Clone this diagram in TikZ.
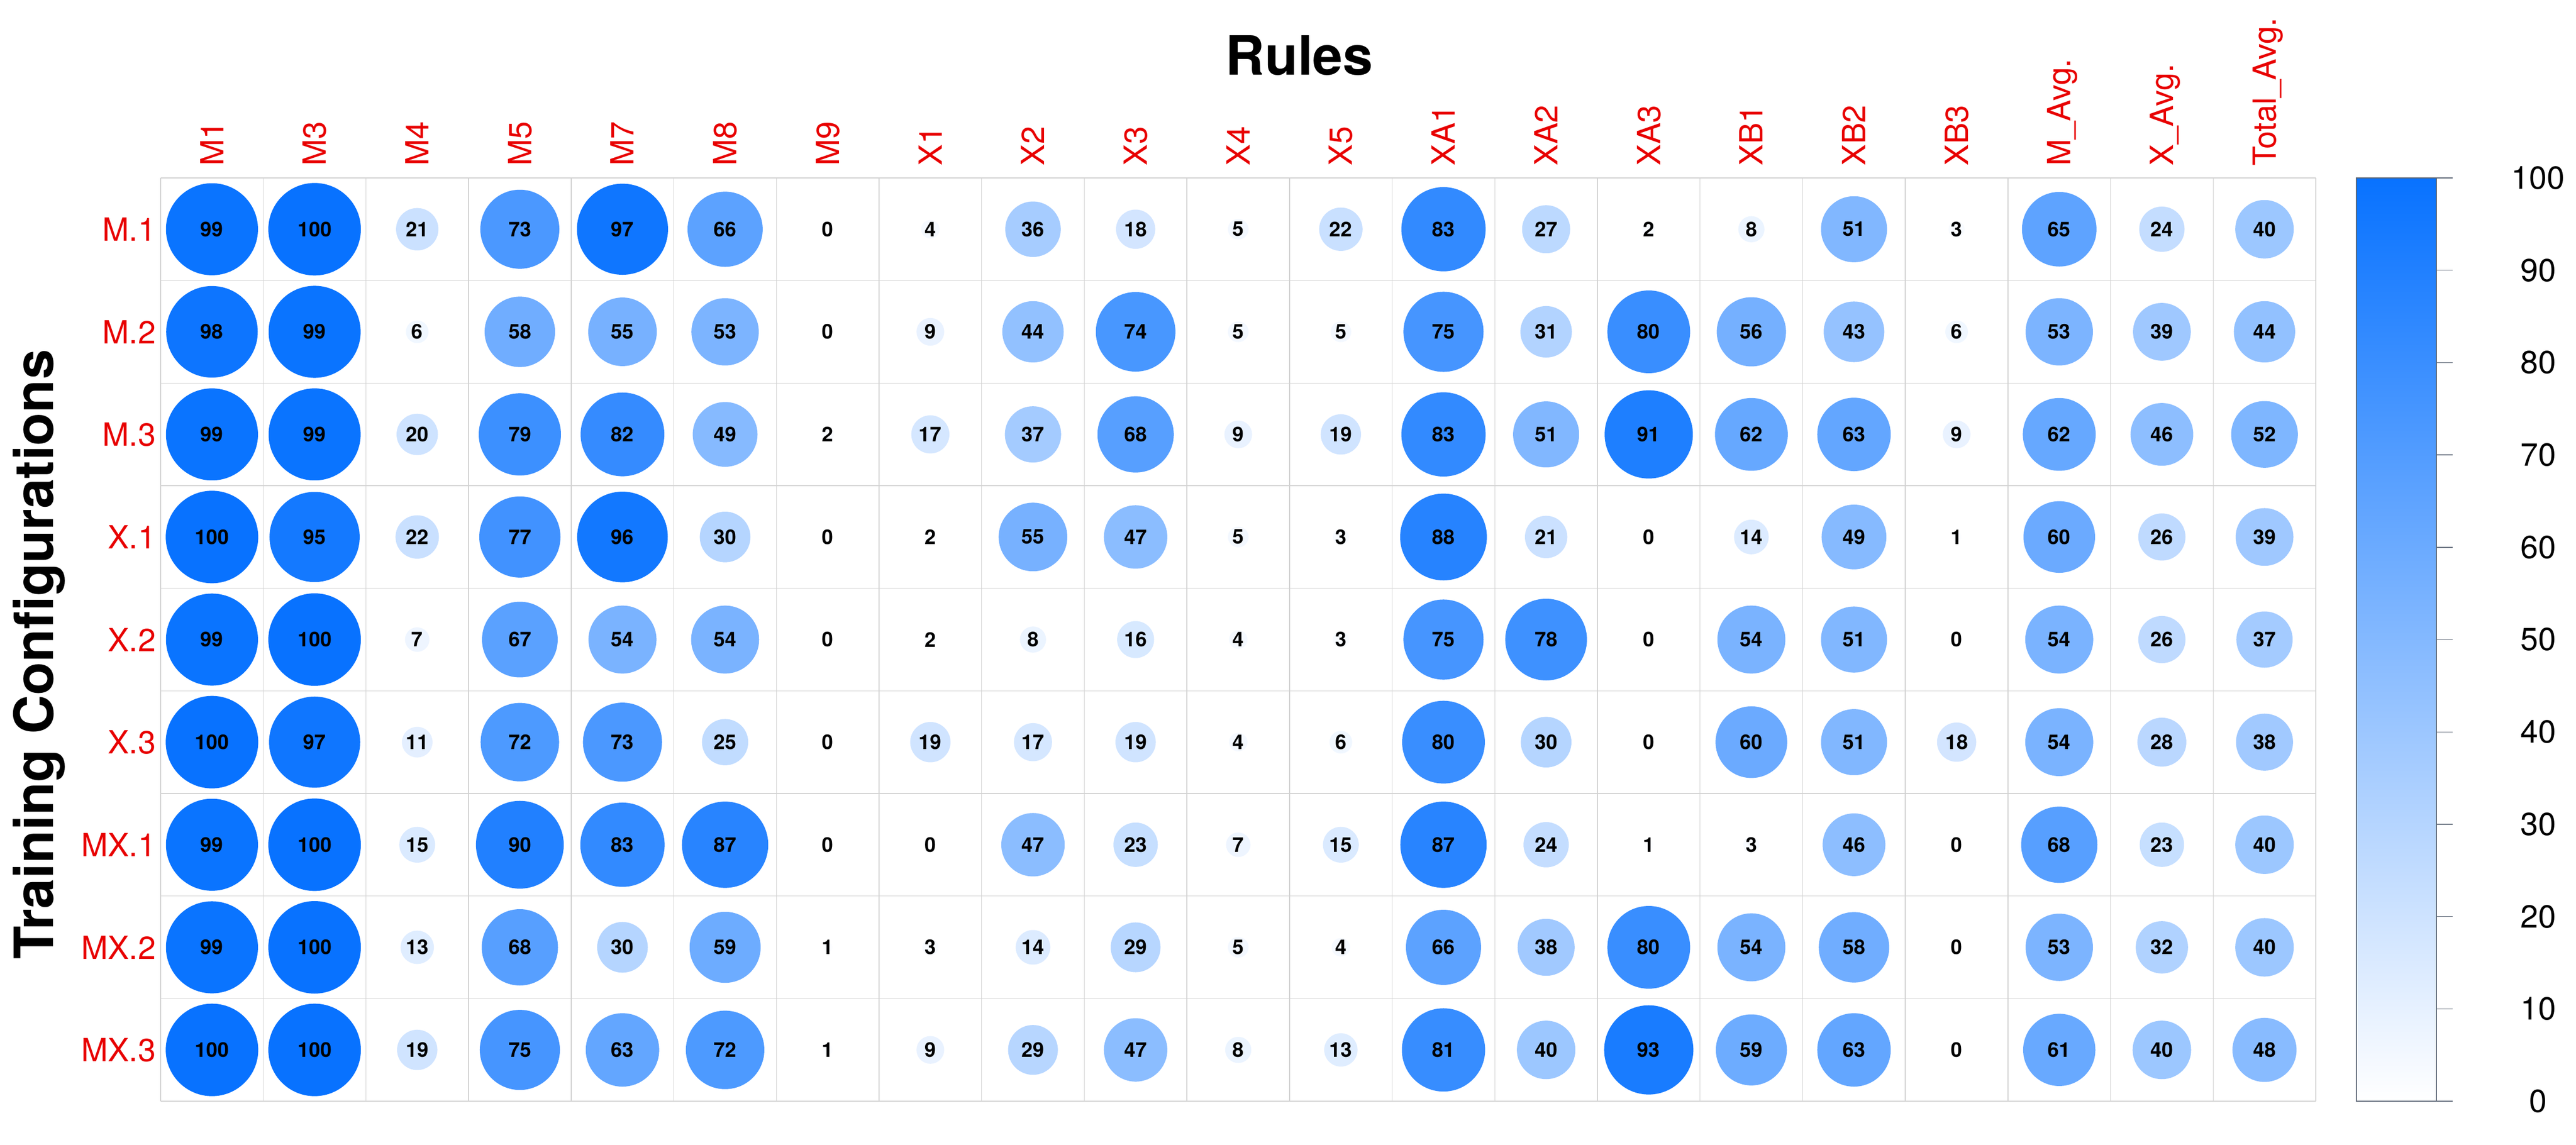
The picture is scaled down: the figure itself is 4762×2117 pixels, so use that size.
\documentclass[tikz,border=0pt]{standalone}
\usepackage{fontspec}
\setmainfont{TeX Gyre Heros}
\definecolor{cbblue}{RGB}{8,114,255}
\definecolor{lblred}{RGB}{232,0,0}
\definecolor{gridgray}{RGB}{210,210,210}
\definecolor{framegray}{RGB}{95,105,120}
\begin{document}
\begin{tikzpicture}[x=0.25pt,y=-0.25pt,
  cellnum/.style={font=\fontsize{9.4}{10}\selectfont\bfseries, inner sep=0pt},
  rowlab/.style={font=\fontsize{14.75}{16}\selectfont, text=lblred, anchor=east, inner sep=0pt},
  collab/.style={font=\fontsize{14.75}{16}\selectfont, text=lblred, rotate=90, anchor=west, inner sep=0pt, text height=10.6pt, text depth=0pt},
  titletext/.style={font=\fontsize{25}{30}\selectfont\bfseries, inner sep=0pt},
  gridline/.style={draw=gridgray, line width=0.35pt},
  cbframe/.style={draw=framegray, line width=0.35pt},
  ticklab/.style={font=\fontsize{14.75}{16}\selectfont, inner sep=0pt}]
\useasboundingbox (0,0) rectangle (4762,2117);
\fill[white] (0,0) rectangle (4762,2117);
\def\cw{189.714}
\def\rh{189.667}
\def\gx{297}
\def\gy{329}
% grid
\foreach \k in {0,...,21} \draw[gridline] ({\gx+\k*\cw},\gy) -- ({\gx+\k*\cw},2036);
\foreach \k in {0,...,9} \draw[gridline] (\gx,{\gy+\k*\rh}) -- (4281,{\gy+\k*\rh});
% cells
\foreach \vals [count=\i] in {
  {99,100,21,73,97,66,0,4,36,18,5,22,83,27,2,8,51,3,65,24,40},
  {98,99,6,58,55,53,0,9,44,74,5,5,75,31,80,56,43,6,53,39,44},
  {99,99,20,79,82,49,2,17,37,68,9,19,83,51,91,62,63,9,62,46,52},
  {100,95,22,77,96,30,0,2,55,47,5,3,88,21,0,14,49,1,60,26,39},
  {99,100,7,67,54,54,0,2,8,16,4,3,75,78,0,54,51,0,54,26,37},
  {100,97,11,72,73,25,0,19,17,19,4,6,80,30,0,60,51,18,54,28,38},
  {99,100,15,90,83,87,0,0,47,23,7,15,87,24,1,3,46,0,68,23,40},
  {99,100,13,68,30,59,1,3,14,29,5,4,66,38,80,54,58,0,53,32,40},
  {100,100,19,75,63,72,1,9,29,47,8,13,81,40,93,59,63,0,61,40,48}}{
  \foreach \v [count=\j] in \vals {
    \pgfmathsetmacro\cx{\gx+(\j-0.5)*\cw}
    \pgfmathsetmacro\cy{\gy+(\i-0.5)*\rh}
    \ifnum\v>0
      \fill[cbblue!\v!white] (\cx,\cy) circle[radius={21.375pt*sqrt(\v/100)}];
    \fi
    \node[cellnum] (v-\i-\j) at (\cx,\cy) {\v};
  }
}
% row labels
\foreach \r [count=\i] in {M.1,M.2,M.3,X.1,X.2,X.3,MX.1,MX.2,MX.3}{
  \pgfmathsetmacro\cy{\gy+(\i-0.5)*\rh}
  \node[rowlab] (r-\i) at (289,\cy) {\r};
}
% column labels
\foreach \c [count=\j] in {M1,M3,M4,M5,M7,M8,M9,X1,X2,X3,X4,X5,XA1,XA2,XA3,XB1,XB2,XB3,M\_Avg.,X\_Avg.,Total\_Avg.}{
  \pgfmathsetmacro\cx{\gx+(\j-0.5)*\cw}
  \node[collab] (c-\j) at (\cx,307) {\c};
}
% titles
\node[titletext, anchor=base] (rules) at (2402,139) {Rules};
\node[titletext, rotate=90, anchor=base] (train) at (98,1210) {Training Configurations};
% colour bar
\shade[top color=cbblue, bottom color=white] (4356,329) rectangle (4504,2036);
\draw[cbframe] (4356,329) rectangle (4504,2036);
\foreach \k in {0,...,10}{
  \pgfmathsetmacro\ty{2036-\k*170.7}
  \draw[cbframe] (4504,\ty) -- (4534,\ty);
  \node[ticklab] (t-\k) at (4692,\ty) {\the\numexpr\k*10\relax};
}
\end{tikzpicture}
\end{document}
